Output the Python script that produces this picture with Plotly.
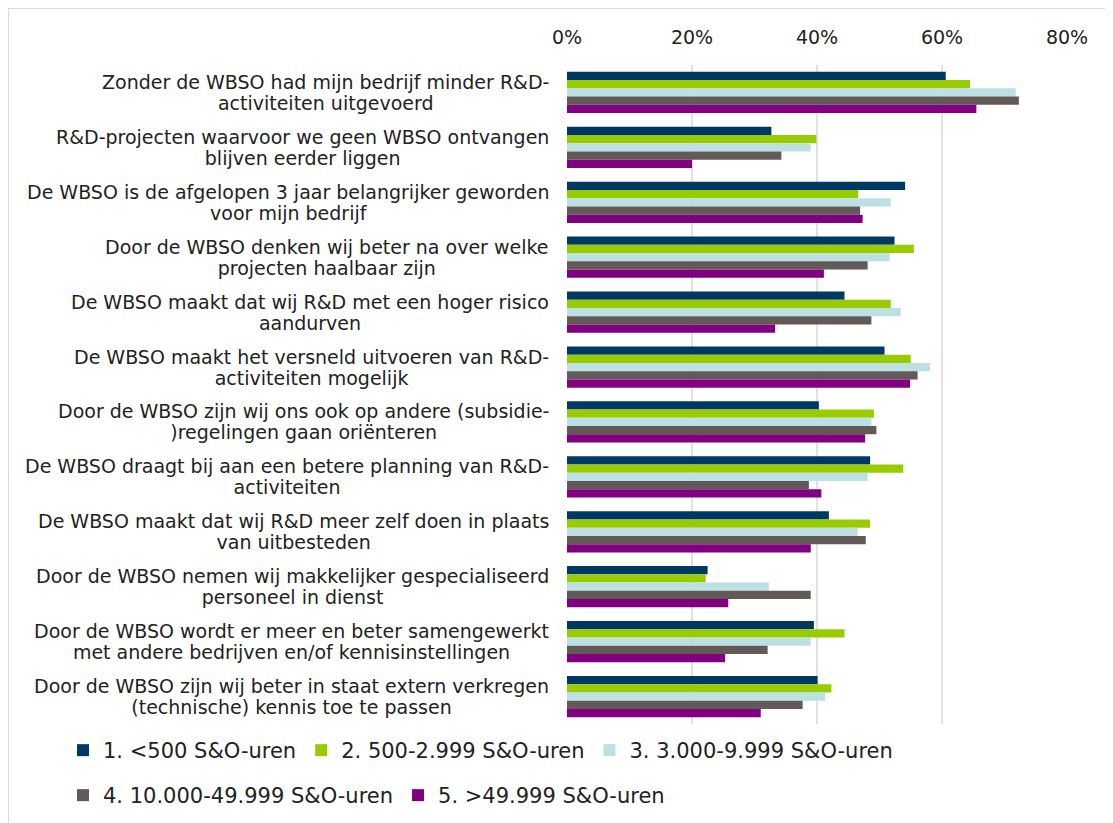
import plotly.graph_objects as go

categories = [
    "Zonder de WBSO had mijn bedrijf minder R&D-<br>activiteiten uitgevoerd",
    "R&D-projecten waarvoor we geen WBSO ontvangen<br>blijven eerder liggen",
    "De WBSO is de afgelopen 3 jaar belangrijker geworden<br>voor mijn bedrijf",
    "Door de WBSO denken wij beter na over welke<br>projecten haalbaar zijn",
    "De WBSO maakt dat wij R&D met een hoger risico<br>aandurven",
    "De WBSO maakt het versneld uitvoeren van R&D-<br>activiteiten mogelijk",
    "Door de WBSO zijn wij ons ook op andere (subsidie-<br>)regelingen gaan oriënteren",
    "De WBSO draagt bij aan een betere planning van R&D-<br>activiteiten",
    "De WBSO maakt dat wij R&D meer zelf doen in plaats<br>van uitbesteden",
    "Door de WBSO nemen wij makkelijker gespecialiseerd<br>personeel in dienst",
    "Door de WBSO wordt er meer en beter samengewerkt<br>met andere bedrijven en/of kennisinstellingen",
    "Door de WBSO zijn wij beter in staat extern verkregen<br>(technische) kennis toe te passen",
]

series_names = [
    "1. <500 S&O-uren",
    "2. 500-2.999 S&O-uren",
    "3. 3.000-9.999 S&O-uren",
    "4. 10.000-49.999 S&O-uren",
    "5. >49.999 S&O-uren",
]

s1 = [0.606, 0.327, 0.541, 0.524, 0.444, 0.508, 0.403, 0.485, 0.419, 0.225, 0.395, 0.401]
s2 = [0.645, 0.399, 0.466, 0.555, 0.518, 0.550, 0.491, 0.538, 0.485, 0.222, 0.444, 0.423]
s3 = [0.718, 0.390, 0.518, 0.516, 0.534, 0.581, 0.487, 0.481, 0.465, 0.323, 0.390, 0.413]
s4 = [0.723, 0.343, 0.469, 0.481, 0.487, 0.561, 0.495, 0.387, 0.478, 0.390, 0.321, 0.377]
s5 = [0.655, 0.200, 0.473, 0.411, 0.333, 0.549, 0.477, 0.407, 0.390, 0.258, 0.253, 0.310]

colors = ["#003865", "#99CC00", "#BCE0E4", "#635A57", "#800080"]
legend_ids = ["legend", "legend", "legend", "legend2", "legend2"]

# figure is drawn at an 8px page offset
W, H = 1113, 823
ML, MR, MT, MB = 559, 54, 57, 107
FONT = "DejaVu Sans, Verdana, sans-serif"
TXT = "#222222"

fig = go.Figure()
for name, vals, col, lg in zip(series_names, [s1, s2, s3, s4, s5], colors, legend_ids):
    fig.add_trace(go.Bar(
        y=categories, x=vals, name=name, orientation="h",
        marker=dict(color=col, line=dict(width=0)),
        legend=lg,
    ))

for c in categories:
    lines = c.split("<br>")
    styled = "<br>".join('<span style="font-size:19px">%s</span>' % ln for ln in lines)
    fig.add_annotation(
        x=0, xref="paper", y=c, yref="y", text=styled, showarrow=False,
        xanchor="right", xshift=-16, align="center",
        font=dict(family=FONT, size=16, color=TXT),
    )

pw = W - ML - MR
ph = H - MT - MB
def px_x(p):
    return (p - ML) / pw
def px_y(p):
    return (H - MB - p) / ph

fig.add_shape(type="rect", xref="paper", yref="paper",
              x0=px_x(0.5), x1=px_x(1130), y0=px_y(840), y1=px_y(0.5),
              line=dict(color="#D9D9D9", width=1), layer="below")

fig.update_layout(
    width=W, height=H,
    margin=dict(l=ML, r=MR, t=MT, b=MB),
    paper_bgcolor="white", plot_bgcolor="white",
    barmode="group", bargap=0.25, bargroupgap=0,
    font=dict(family=FONT, size=18, color=TXT),
    xaxis=dict(side="top", range=[0, 0.8], dtick=0.2, tickformat=".0%",
               showgrid=True, gridcolor="#E5E0E0", gridwidth=2,
               zeroline=False, showline=False,
               ticks="outside", ticklen=12, tickcolor="rgba(0,0,0,0)",
               tickfont=dict(family=FONT, size=19, color=TXT)),
    yaxis=dict(autorange="reversed", showticklabels=False, showgrid=False,
               zeroline=False, showline=False),
    legend=dict(orientation="h", x=px_x(55), y=px_y(722),
                xanchor="left", yanchor="top",
                font=dict(family=FONT, size=21, color=TXT),
                itemwidth=30, tracegroupgap=0),
    legend2=dict(orientation="h", x=px_x(55), y=px_y(767),
                 xanchor="left", yanchor="top",
                 font=dict(family=FONT, size=21, color=TXT),
                 itemwidth=30, tracegroupgap=0),
    showlegend=True,
)

fig.write_html("out.html")
